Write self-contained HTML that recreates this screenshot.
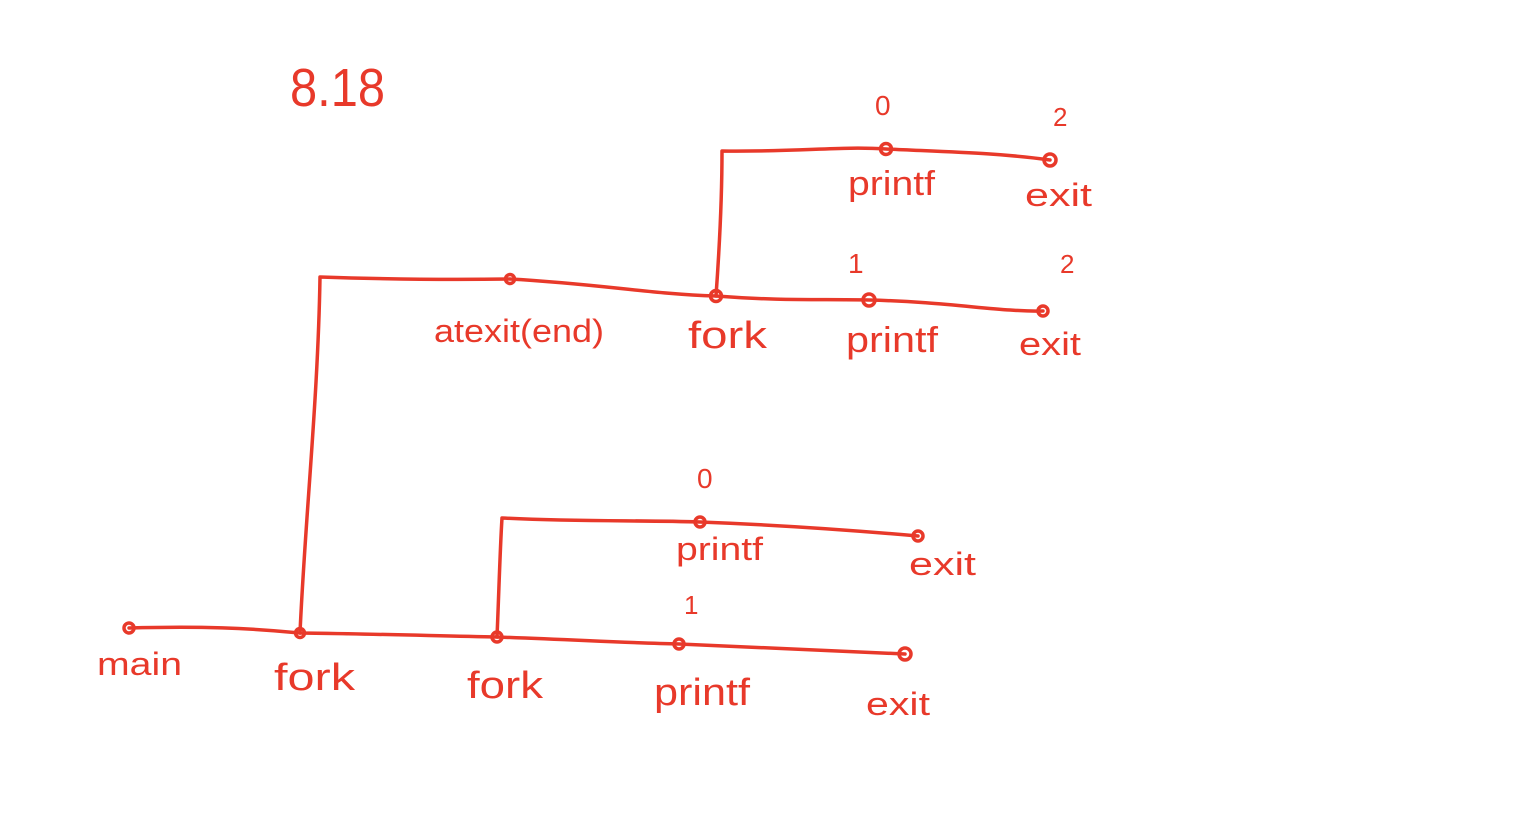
<!DOCTYPE html>
<html><head><meta charset="utf-8"><style>
html,body{margin:0;padding:0;background:#fff;}
svg{display:block;}
text{font-family:"Liberation Sans",sans-serif;fill:#e8392a;}
</style></head><body>
<svg width="1536" height="813" viewBox="0 0 1536 813">
<g stroke="#e8392a" stroke-width="3.5" fill="none" stroke-linecap="round" stroke-linejoin="round">
  <path d="M129,628 C200,626 250,628 300,633 C380,634 440,636 497,637 C580,640 630,643 679,644 C780,648 850,652 905,654"/>
  <path d="M300,633 C305,520 318,400 320,277 C380,279 450,280 510,279 C600,284 650,294 716,296 C780,301 820,299 869,300 C950,302 1000,312 1043,311"/>
  <path d="M716,296 C720,240 722,190 722,151 C800,152 840,146 886,149 C950,152 1000,153 1050,160"/>
  <path d="M497,637 C499,590 500,550 502,518 C580,522 640,520 700,522 C780,525 850,530 918,536"/>
  <circle cx="129" cy="628" r="5"/>
  <circle cx="300" cy="633" r="4.5"/>
  <circle cx="497" cy="637" r="5"/>
  <circle cx="679" cy="644" r="5"/>
  <circle cx="905" cy="654" r="6"/>
  <circle cx="700" cy="522" r="5"/>
  <circle cx="918" cy="536" r="5"/>
  <circle cx="510" cy="279" r="4.5"/>
  <circle cx="716" cy="296" r="5.5"/>
  <circle cx="869" cy="300" r="6"/>
  <circle cx="1043" cy="311" r="5"/>
  <circle cx="886" cy="149" r="5.5"/>
  <circle cx="1050" cy="160" r="6"/>
</g>
<text x="290" y="106" font-size="54" textLength="95" lengthAdjust="spacingAndGlyphs">8.18</text>
<g font-size="32">
  <text x="97" y="675" textLength="85" lengthAdjust="spacingAndGlyphs">main</text>
  <text x="274" y="690" font-size="38" textLength="81" lengthAdjust="spacingAndGlyphs">fork</text>
  <text x="467" y="698" font-size="38" textLength="76" lengthAdjust="spacingAndGlyphs">fork</text>
  <text x="654" y="705" font-size="38" textLength="96" lengthAdjust="spacingAndGlyphs">printf</text>
  <text x="866" y="715" textLength="64" lengthAdjust="spacingAndGlyphs">exit</text>
  <text x="684" y="614" font-size="26">1</text>
  <text x="697" y="488" font-size="28">0</text>
  <text x="676" y="560" textLength="87" lengthAdjust="spacingAndGlyphs">printf</text>
  <text x="909" y="575" textLength="67" lengthAdjust="spacingAndGlyphs">exit</text>
  <text x="434" y="342" textLength="170" lengthAdjust="spacingAndGlyphs">atexit(end)</text>
  <text x="688" y="348" font-size="38" textLength="79" lengthAdjust="spacingAndGlyphs">fork</text>
  <text x="846" y="352" font-size="36" textLength="92" lengthAdjust="spacingAndGlyphs">printf</text>
  <text x="1019" y="355" textLength="62" lengthAdjust="spacingAndGlyphs">exit</text>
  <text x="848" y="273" font-size="28">1</text>
  <text x="1060" y="273" font-size="26">2</text>
  <text x="848" y="195" font-size="34" textLength="87" lengthAdjust="spacingAndGlyphs">printf</text>
  <text x="1025" y="206" textLength="67" lengthAdjust="spacingAndGlyphs">exit</text>
  <text x="875" y="115" font-size="28">0</text>
  <text x="1053" y="126" font-size="26">2</text>
</g>
</svg>
</body></html>
